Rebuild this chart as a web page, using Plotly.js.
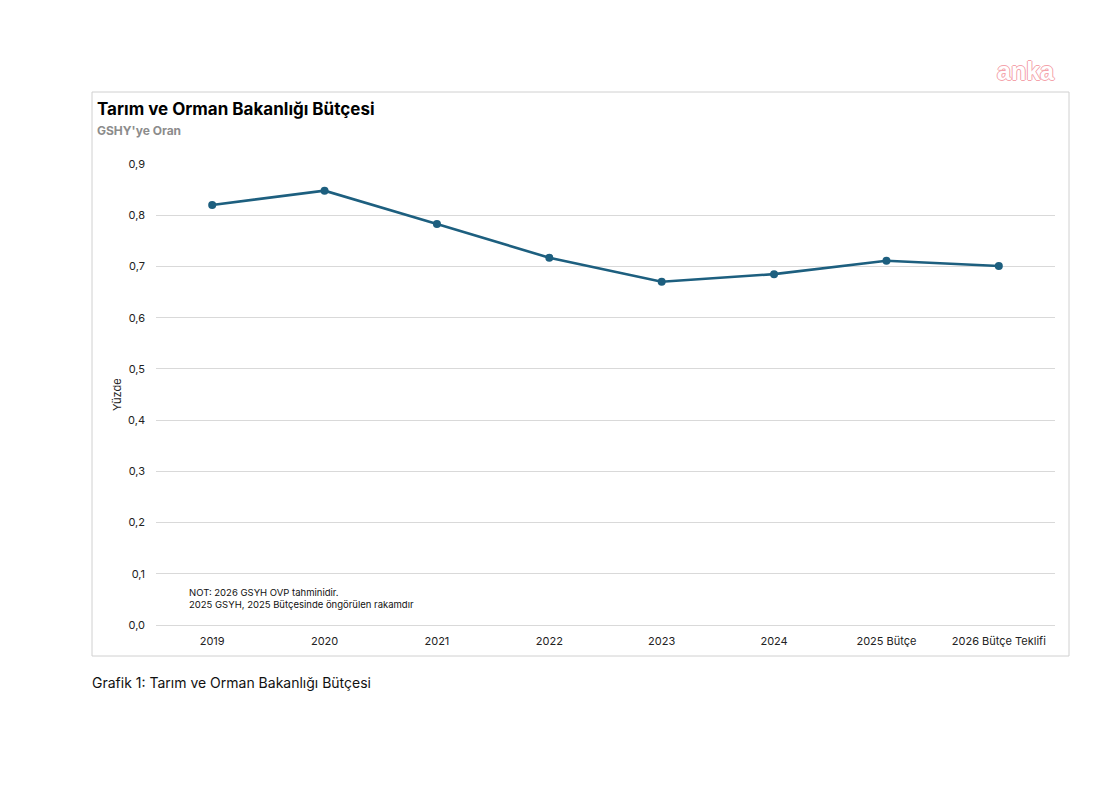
<!DOCTYPE html>
<html>
<head>
<meta charset="utf-8">
<script src="https://cdn.plot.ly/plotly-3.0.1.min.js"></script>
<style>html,body{margin:0;padding:0;background:#fff;}</style>
</head>
<body>
<div id="chart" style="width:1115px;height:786px;"></div>
<script>
const categories = ["2019", "2020", "2021", "2022", "2023", "2024", "2025 Bütçe", "2026 Bütçe Teklifi"];
const values = [0.820, 0.848, 0.783, 0.717, 0.670, 0.685, 0.711, 0.701];
const yTicks = [0, 0.1, 0.2, 0.3, 0.4, 0.5, 0.6, 0.7, 0.8, 0.9];
const yTickLabels = ["0,0", "0,1", "0,2", "0,3", "0,4", "0,5", "0,6", "0,7", "0,8", "0,9"];

const FONT = "Inter, 'Noto Sans', 'Liberation Sans', sans-serif";
const L = 156, R = 1055, T = 164, B = 625;
const W = R - L, H = B - T;
const px = X => (X - L) / W;
const py = Y => (B - Y) / H;

const trace = {
  x: categories,
  y: values,
  type: "scatter",
  mode: "lines+markers",
  line: {color: "#1d5f7f", width: 2.6},
  marker: {color: "#1d5f7f", size: 8},
  hoverinfo: "x+y"
};

const layout = {
  width: 1115, height: 786,
  margin: {l: L, r: 1115 - R, t: T, b: 786 - B},
  paper_bgcolor: "#ffffff",
  plot_bgcolor: "#ffffff",
  showlegend: false,
  font: {family: FONT, size: 11, color: "#222"},
  xaxis: {
    type: "category",
    range: [-0.5, categories.length - 0.5],
    showgrid: false,
    showline: false,
    zeroline: false,
    ticks: "",
    ticklabelstandoff: 8,
    tickfont: {family: FONT, size: 11, color: "#222"},
    fixedrange: true
  },
  yaxis: {
    range: [0, 0.9],
    tickvals: yTicks,
    ticktext: yTickLabels,
    showgrid: true,
    gridcolor: "#d9d9d9",
    gridwidth: 1,
    zeroline: true,
    zerolinecolor: "#d9d9d9",
    zerolinewidth: 1,
    showline: false,
    ticks: "",
    ticklabelstandoff: 10,
    tickfont: {family: FONT, size: 11, color: "#222"},
    fixedrange: true
  },
  shapes: [
    {type: "rect", xref: "paper", yref: "paper",
     x0: px(92), x1: px(1069), y0: py(656), y1: py(92),
     line: {color: "#d0d0d0", width: 1}, fillcolor: "rgba(0,0,0,0)", layer: "below"}
  ],
  annotations: [
    {xref: "paper", yref: "paper", x: px(95), y: py(109), xanchor: "left", yanchor: "middle",
     text: "<b>Tarım ve Orman Bakanlığı Bütçesi</b>", showarrow: false,
     font: {family: FONT, size: 17, color: "#000"}},
    {xref: "paper", yref: "paper", x: px(95), y: py(131), xanchor: "left", yanchor: "middle",
     text: "<b>GSHY'ye Oran</b>", showarrow: false,
     font: {family: FONT, size: 12, color: "#8c8c8c"}},
    {xref: "paper", yref: "paper", x: px(117), y: py(395), xanchor: "center", yanchor: "middle",
     text: "Yüzde", textangle: -90, showarrow: false,
     font: {family: FONT, size: 11, color: "#222"}},
    {xref: "paper", yref: "paper", x: px(187), y: py(598), xanchor: "left", yanchor: "middle",
     text: "NOT: 2026 GSYH OVP tahminidir.<br>2025 GSYH, 2025 Bütçesinde öngörülen rakamdır",
     align: "left", showarrow: false,
     font: {family: FONT, size: 9.5, color: "#111"}},
    {xref: "paper", yref: "paper", x: px(90), y: py(682), xanchor: "left", yanchor: "middle",
     text: "Grafik 1: Tarım ve Orman Bakanlığı Bütçesi", showarrow: false,
     font: {family: FONT, size: 14, color: "#111"}},
    {xref: "paper", yref: "paper", x: px(1026), y: py(71), xanchor: "center", yanchor: "middle",
     text: "<b>anka</b>", showarrow: false,
     font: {family: "'Liberation Sans', Arial, sans-serif", size: 25, color: "#ffffff",
            shadow: "1px 0 0 #f4a3ab, -1px 0 0 #f4a3ab, 0 1px 0 #f4a3ab, 0 -1px 0 #f4a3ab"}}
  ]
};

Plotly.newPlot("chart", [trace], layout, {displayModeBar: false, staticPlot: true});
</script>
</body>
</html>
